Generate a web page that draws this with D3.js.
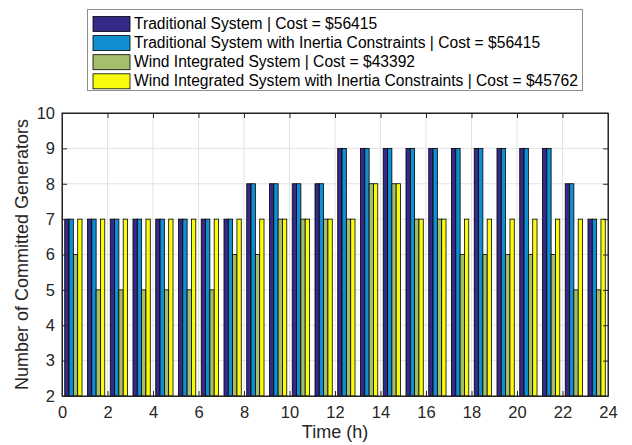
<!DOCTYPE html>
<html>
<head>
<meta charset="utf-8">
<script src="https://cdn.jsdelivr.net/npm/d3@7"></script>
<style>
html,body{margin:0;padding:0;background:#fff;}
svg{display:block;font-family:"Liberation Sans",Arial,Helvetica,sans-serif;}
</style>
</head>
<body>
<svg id="chart" width="632" height="445"></svg>
<script>
const hours = d3.range(24).map(h => h + 0.5);
const traditional        = [7,7,7,7,7,7,7,7,8,8,8,8,9,9,9,9,9,9,9,9,9,9,8,7];
const traditionalInertia = [7,7,7,7,7,7,7,7,8,8,8,8,9,9,9,9,9,9,9,9,9,9,8,7];
const wind               = [6,5,5,5,5,5,5,6,6,7,7,7,7,8,8,7,7,6,6,6,6,6,5,5];
const windInertia        = [7,7,7,7,7,7,7,7,7,7,7,7,7,8,8,7,7,7,7,7,7,7,7,7];
const seriesNames = [
  "Traditional System | Cost = $56415",
  "Traditional System with Inertia Constraints | Cost = $56415",
  "Wind Integrated System | Cost = $43392",
  "Wind Integrated System with Inertia Constraints | Cost = $45762"
];
const seriesColors = ["#352a87","#108ed2","#a5be6b","#f9fb0e"];
const xTicks = d3.range(0, 25, 2);
const yTicks = d3.range(2, 11, 1);

const series = [traditional, traditionalInertia, wind, windInertia];

const svg = d3.select("#chart");
const L = 62, R = 608, T = 113, B = 396;
const x = d3.scaleLinear().domain([0,24]).range([L,R]);
const y = d3.scaleLinear().domain([2,10]).range([B,T]);

// grid
const g = svg.append("g");
g.selectAll(".gx").data(xTicks).enter().append("line")
  .attr("x1", d=>x(d)).attr("x2", d=>x(d)).attr("y1", T).attr("y2", B)
  .attr("stroke", "#e3e3e3").attr("stroke-width", 1);
g.selectAll(".gy").data(yTicks).enter().append("line")
  .attr("x1", L).attr("x2", R).attr("y1", d=>y(d)).attr("y2", d=>y(d))
  .attr("stroke", "#e3e3e3").attr("stroke-width", 1);

// bars
const groupWidth = 0.76;
const band = d3.scaleBand().domain(d3.range(4)).range([-groupWidth/2, groupWidth/2]).padding(0);
series.forEach((vals, si) => {
  svg.append("g").selectAll("rect").data(vals).enter().append("rect")
    .attr("x", (d,i) => x(hours[i] + band(si)))
    .attr("width", x(band.bandwidth()) - x(0))
    .attr("y", d => y(d))
    .attr("height", d => y(2) - y(d))
    .attr("fill", seriesColors[si])
    .attr("stroke", "#000").attr("stroke-width", 0.8);
});

// axes
const axB = svg.append("g").attr("transform", `translate(0,${B})`)
  .call(d3.axisBottom(x).tickValues(xTicks).tickSizeInner(-5).tickSizeOuter(0).tickPadding(10));
const axT = svg.append("g").attr("transform", `translate(0,${T})`)
  .call(d3.axisTop(x).tickValues(xTicks).tickSizeInner(-5).tickSizeOuter(0).tickFormat(""));
const axL = svg.append("g").attr("transform", `translate(${L},0)`)
  .call(d3.axisLeft(y).tickValues(yTicks).tickSizeInner(-5).tickSizeOuter(0).tickPadding(7));
const axR = svg.append("g").attr("transform", `translate(${R},0)`)
  .call(d3.axisRight(y).tickValues(yTicks).tickSizeInner(-5).tickSizeOuter(0).tickFormat(""));
[axB, axT, axL, axR].forEach(a => {
  a.selectAll("path").attr("stroke", "#262626").attr("stroke-width", 1);
  a.selectAll("line").attr("stroke", "#262626");
  a.selectAll("text").attr("fill", "#262626").attr("font-size", 16.5)
    .attr("font-family", '"Liberation Sans",Arial,sans-serif');
});
// frame
svg.append("rect").attr("x", L).attr("y", T).attr("width", R-L).attr("height", B-T)
  .attr("fill", "none").attr("stroke", "#262626").attr("stroke-width", 1);

// axis labels
svg.append("text").attr("x", (L+R)/2).attr("y", 438).attr("text-anchor", "middle")
  .attr("font-size", 18).attr("fill", "#262626").text("Time (h)");
svg.append("text").attr("transform", `translate(28,${(T+B)/2}) rotate(-90)`)
  .attr("text-anchor", "middle").attr("font-size", 18).attr("fill", "#262626")
  .text("Number of Committed Generators");

// legend
const lg = svg.append("g");
lg.append("rect").attr("x", 87.5).attr("y", 9.5).attr("width", 495).attr("height", 81)
  .attr("fill", "#fff").attr("stroke", "#8c8c8c").attr("stroke-width", 1);
seriesNames.forEach((name, i) => {
  const cy = 23.5 + i * 19.1;
  lg.append("rect").attr("x", 93).attr("y", cy - 7).attr("width", 37).attr("height", 15)
    .attr("fill", seriesColors[i]).attr("stroke", "#000").attr("stroke-width", 0.8);
  lg.append("text").attr("x", 134).attr("y", cy + 5.5).attr("font-size", 15.6)
    .attr("fill", "#000").text(name);
});
</script>
</body>
</html>
